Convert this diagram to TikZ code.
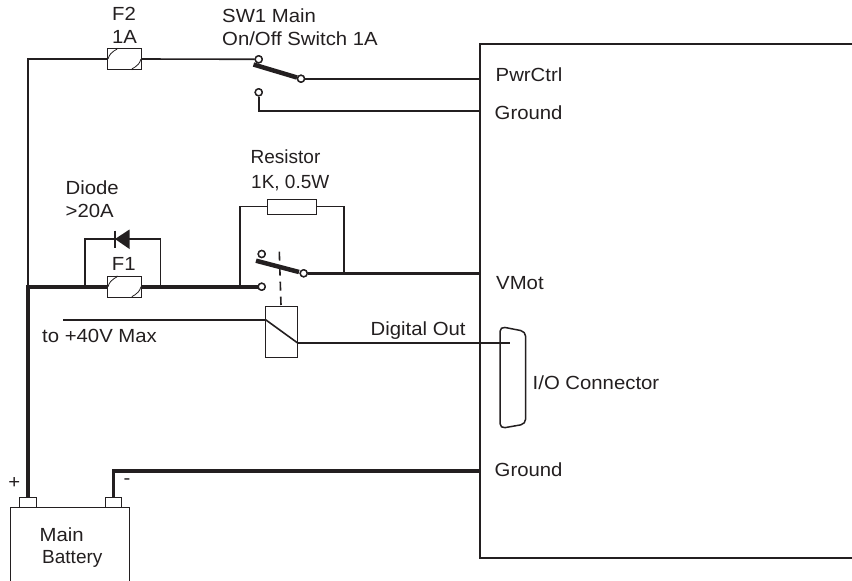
\documentclass[tikz,border=0pt]{standalone}
\usepackage{fontspec}
\setmainfont[FakeStretch=1.07]{Liberation Sans}
\newfontfamily\plainsans{Liberation Sans}
\definecolor{ink}{HTML}{231F20}
\tikzset{x=1pt,y=-1pt,
 thinw/.style={draw=ink,line width=1.6pt},
 thickw/.style={draw=ink,line width=3.6pt},
 hair/.style={draw=ink,line width=0.8pt},
 lbl/.style={font=\fontsize{19}{23}\selectfont,text=ink,inner sep=0pt,anchor=base west},
 lblc/.style={font=\fontsize{19}{23}\selectfont,text=ink,inner sep=0pt,anchor=base},
 lblp/.style={font=\plainsans\fontsize{19}{23}\selectfont,text=ink,inner sep=0pt,anchor=base west},
 term/.style={circle,draw=ink,fill=white,line width=1.4pt,minimum size=7pt,inner sep=0pt},
 fusebox/.style={rectangle,draw=ink,fill=white,line width=0.8pt,minimum width=33.5pt,minimum height=21pt,inner sep=0pt},
 relaybox/.style={draw=ink,line width=1pt,minimum width=31.7pt,minimum height=50.6pt,inner sep=0pt},
 resbox/.style={draw=ink,fill=white,line width=0.8pt,minimum width=49.5pt,minimum height=15pt,inner sep=0pt},
 battterm/.style={draw=ink,fill=white,line width=1pt,minimum width=16.7pt,minimum height=10pt,inner sep=0pt},
}
\usetikzlibrary{calc}
\newcommand{\fusewave}[1]{\draw[hair] ($(#1)+(-16.5,0)$) .. controls ($(#1)+(-14,-9)$) and ($(#1)+(-6,-9)$) .. (#1) .. controls ($(#1)+(6,9)$) and ($(#1)+(14,9)$) .. ($(#1)+(16.5,0)$);}
\begin{document}
\begin{tikzpicture}
\useasboundingbox (0,0) rectangle (852,581);
% controller box
\coordinate (bxa) at (852,44);
\coordinate (bxb) at (480,44);
\coordinate (bxc) at (480,558);
\coordinate (bxd) at (852,558);
\draw[thinw,line width=1.8pt] (bxa) -- (bxb) -- (bxc) -- (bxd);
% labels in box
\node[lbl] (lpwr) at (495.5,81.2) {PwrCtrl};
\node[lbl] (lgnd) at (494.5,119.3) {Ground};
\node[lbl] (lvm) at (496,289.3) {VMot};
\node[lbl] (lgnd2) at (494.5,476.7) {Ground};
\node[lbl] (lio) at (532.5,389.3) {I/O Connector};
% F2 branch
\coordinate (c1) at (28,59);
\coordinate (j0) at (28,286);
\coordinate (j1) at (28,470);
\node[fusebox] (f2) at (124.5,59) {};
\node[term] (s1a) at (258.7,59.3) {};
\node[term] (s1b) at (301,78.7) {};
\node[term] (s1c) at (258.7,92.3) {};
\coordinate (pwr) at (480,78.7);
\coordinate (gnd1) at (480,111);
\draw[thinw] (j0) -- (c1) -- (f2.west);
\draw[thinw] (f2.east) -- (s1a);
\draw[thinw] (s1b) -- (pwr);
\draw[thinw] (s1c) -- (258.7,111) -- (gnd1);
\draw[draw=ink,line width=4.5pt] (253.5,64.5) -- (297,77.5);
\node[term] at (s1a) {};
\node[term] at (s1b) {};
\node[term] at (s1c) {};
\fusewave{f2}
\node[lblc] (lf2) at (124,20.7) {F2};
\node[lblc] (l1a) at (124.5,43.3) {1A};
\node[lbl] (lsw) at (222,22.3) {SW1 Main};
\node[lbl] (lsw2) at (222,45) {On/Off Switch 1A};
% F1 branch
\node[fusebox] (f1) at (124.5,286.7) {};
\node[term] (s2c) at (261.7,286.7) {};
\node[term] (s2a) at (261.7,254) {};
\node[term] (s2b) at (303.7,273.3) {};
\coordinate (vm) at (480,273.3);
\coordinate (jd1) at (85,286.7);
\coordinate (jd2) at (160.5,286.7);
\coordinate (jr) at (240,286.7);
\draw[thinw] (jd1) -- (85,239) -- (160.5,239) -- (jd2);
\node[lblc] (lf1) at (123.7,270) {F1};
\draw[thinw] (jr) -- (240,206.5) -- (267,206.5);
\draw[thinw] (317,206.5) -- (344,206.5) -- (344,273);
\node[resbox] (res) at (292,206.5) {};
\draw[thickw] (26.2,286.7) -- (f1.west);
\draw[thickw] (f1.east) -- (s2c);
\draw[thickw] (s2b) -- (vm);
\draw[thickw] (28,285) -- (28,470);
\draw[draw=ink,line width=4.5pt] (256,260.7) -- (299,272);
\node[term] at (s2a) {};
\node[term] at (s2b) {};
\node[term] at (s2c) {};
\fusewave{f1}
% diode
\fill[ink] (129.5,229.5) -- (129.5,249) -- (115,239) -- cycle;
\draw[draw=ink,line width=2.6pt] (114.8,230.5) -- (114.8,248);
\node[lbl] (ld) at (65.5,194) {Diode};
\node[lbl] (ld2) at (65.5,217.3) {>20A};
\node[lblp] (lr) at (250.5,163.3) {Resistor};
\node[lblp] (lr2) at (251,188) {1K, 0.5W};
% relay
\node[relaybox] (rel) at (281.8,332) {};
\coordinate (to40) at (63,320);
\coordinate (dout) at (510,343);
\draw[thinw] (to40) -- (266,320) -- (297.7,343);
\draw[thinw] (297.7,343) -- (dout);
\draw[thinw,dash pattern=on 9pt off 6pt] (279.3,251.7) -- (281,305);
\node[lbl] (l40) at (42,342.7) {to +40V Max};
\node[lbl] (ldo) at (370.5,335) {Digital Out};
% connector
\draw[draw=ink,line width=1.5pt,rounded corners=5pt] (500,326.5) -- (525.7,331.5) -- (525.7,424) -- (500,428.5) -- cycle;
% battery
\draw[draw=ink,line width=1pt] (10.7,581) -- (10.7,507) -- (129.3,507) -- (129.3,581);
\node[battterm] (tp) at (28.3,502) {};
\node[battterm] (tn) at (113.5,502) {};
\draw[thickw] (j1) -- (28,497);
\draw[thickw] (tn.north) -- (113.5,470.7) -- (480,470.7);
\node[lbl,anchor=center] (lplus) at (14.3,483) {+};
\node[lbl,anchor=center] (lminus) at (127,482) {-};
\node[lbl] (lm) at (39.5,541.7) {Main};
\node[lblp] (lb) at (42,563.3) {Battery};
\end{tikzpicture}
\end{document}
